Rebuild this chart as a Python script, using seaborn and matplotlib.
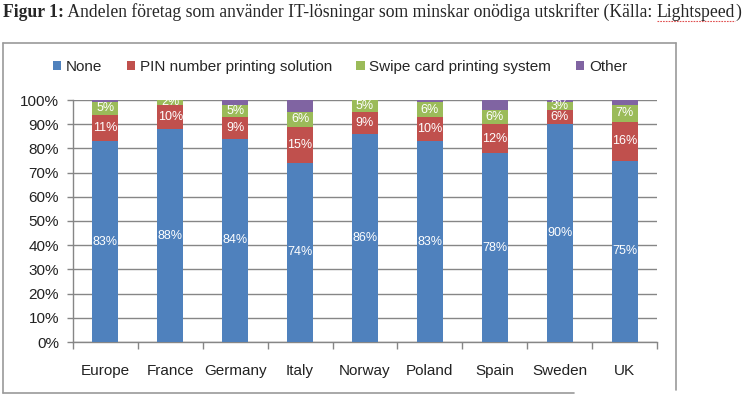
import matplotlib
matplotlib.use("Agg")
import matplotlib.pyplot as plt
import seaborn as sns
import pandas as pd
import numpy as np
from matplotlib.lines import Line2D
from matplotlib.patches import Patch
from matplotlib.ticker import FixedLocator

# ---- data ----
countries = ["Europe", "France", "Germany", "Italy", "Norway", "Poland", "Spain", "Sweden", "UK"]
none_vals = [83, 88, 84, 74, 86, 83, 78, 90, 75]
pin_vals = [11, 10, 9, 15, 9, 10, 12, 6, 16]
swipe_vals = [5, 2, 5, 6, 5, 6, 6, 3, 7]
other_vals = [1, 0, 2, 5, 0, 1, 4, 1, 2]
series_names = ["None", "PIN number printing solution", "Swipe card printing system", "Other"]
series_vals = [none_vals, pin_vals, swipe_vals, other_vals]
colors = ["#4F81BD", "#C0504D", "#9BBB59", "#8064A2"]
y_ticks = list(range(0, 101, 10))
title_parts = ["Figur 1:",
               " Andelen företag som använder IT-lösningar som minskar onödiga utskrifter (Källa: ",
               "Lightspeed", ")"]

sns.set_theme(style="white")
plt.rcParams["font.family"] = ["Liberation Sans", "DejaVu Sans"]

W, H = 746, 396
fig = plt.figure(figsize=(W / 100, H / 100), dpi=100)
ax = fig.add_axes([73 / W, 1 - 342 / H, 584 / W, 242 / H])

df = pd.DataFrame({"country": countries})
bottom = np.zeros(len(countries))
for name, vals, col in zip(series_names, series_vals, colors):
    df[name] = vals
    sns.barplot(data=df, x="country", y=name, order=countries, color=col,
                saturation=1, width=0.4, bottom=bottom, linewidth=0,
                errorbar=None, ax=ax, zorder=3)
    if name != "Other":
        for i, v in enumerate(vals):
            ax.text(i, bottom[i] + v / 2, f"{v}%", ha="center", va="center",
                    color="white", fontsize=9, zorder=5)
    bottom = bottom + np.array(vals)

ax.set_xlim(-0.5, len(countries) - 0.5)
ax.set_ylim(0, 100)
ax.set_yticks(y_ticks)
ax.set_yticklabels([f"{t}%" for t in y_ticks], fontsize=11, color="#222222")
ax.set_xlabel("")
ax.set_ylabel("")
ax.tick_params(axis="x", which="major", length=0, pad=16, labelsize=11, labelcolor="#222222")
ax.xaxis.set_minor_locator(FixedLocator(np.arange(-0.5, len(countries), 1.0)))
ax.tick_params(axis="x", which="minor", length=5, direction="out", color="#868686", width=1, bottom=True)
ax.tick_params(axis="y", which="major", length=4, direction="out", color="#868686", width=1, left=True, pad=6)
ax.yaxis.grid(True, color="#868686", linewidth=1)
ax.set_axisbelow(True)
for s in ["top", "right"]:
    ax.spines[s].set_visible(False)
for s in ["left", "bottom"]:
    ax.spines[s].set_color("#868686")
    ax.spines[s].set_linewidth(1)

handles = [Patch(facecolor=c, edgecolor="none") for c in colors]
fig.legend(handles, series_names, loc="center", bbox_to_anchor=(340 / W, 1 - 67 / H),
           ncol=4, frameon=False, fontsize=11, handlelength=0.55, handleheight=0.55,
           handletextpad=0.3, columnspacing=1.6)

# frame around the chart
gc = "#9a9a9a"
fig.add_artist(Line2D([3 / W, 676 / W], [1 - 43 / H] * 2, color=gc, lw=1.2))
fig.add_artist(Line2D([3 / W, 3 / W], [1 - 43 / H, 1 - 393 / H], color=gc, lw=1.2))
fig.add_artist(Line2D([676 / W, 676 / W], [1 - 43 / H, 1 - 390 / H], color=gc, lw=1.2))
fig.add_artist(Line2D([3 / W, 574 / W], [1 - 393 / H] * 2, color=gc, lw=1.2))

# title (bold lead-in + regular text)
fig.canvas.draw()
r = fig.canvas.get_renderer()
serif = ["Liberation Serif", "DejaVu Serif"]
x = 3
base_y = 1 - 17 / H
for k, part in enumerate(title_parts):
    t = fig.text(x / W, base_y, part, fontsize=12.7, fontweight="bold" if k == 0 else "normal",
                 family=serif, va="baseline", ha="left")
    bb = t.get_window_extent(renderer=r)
    if part == "Lightspeed":
        fig.add_artist(Line2D([bb.x0 / W, bb.x1 / W], [1 - 21 / H] * 2, color="#e05050",
                              lw=0.8, ls=(0, (1.5, 1))))
    x = bb.x1

fig.savefig("out.png", dpi=100)
